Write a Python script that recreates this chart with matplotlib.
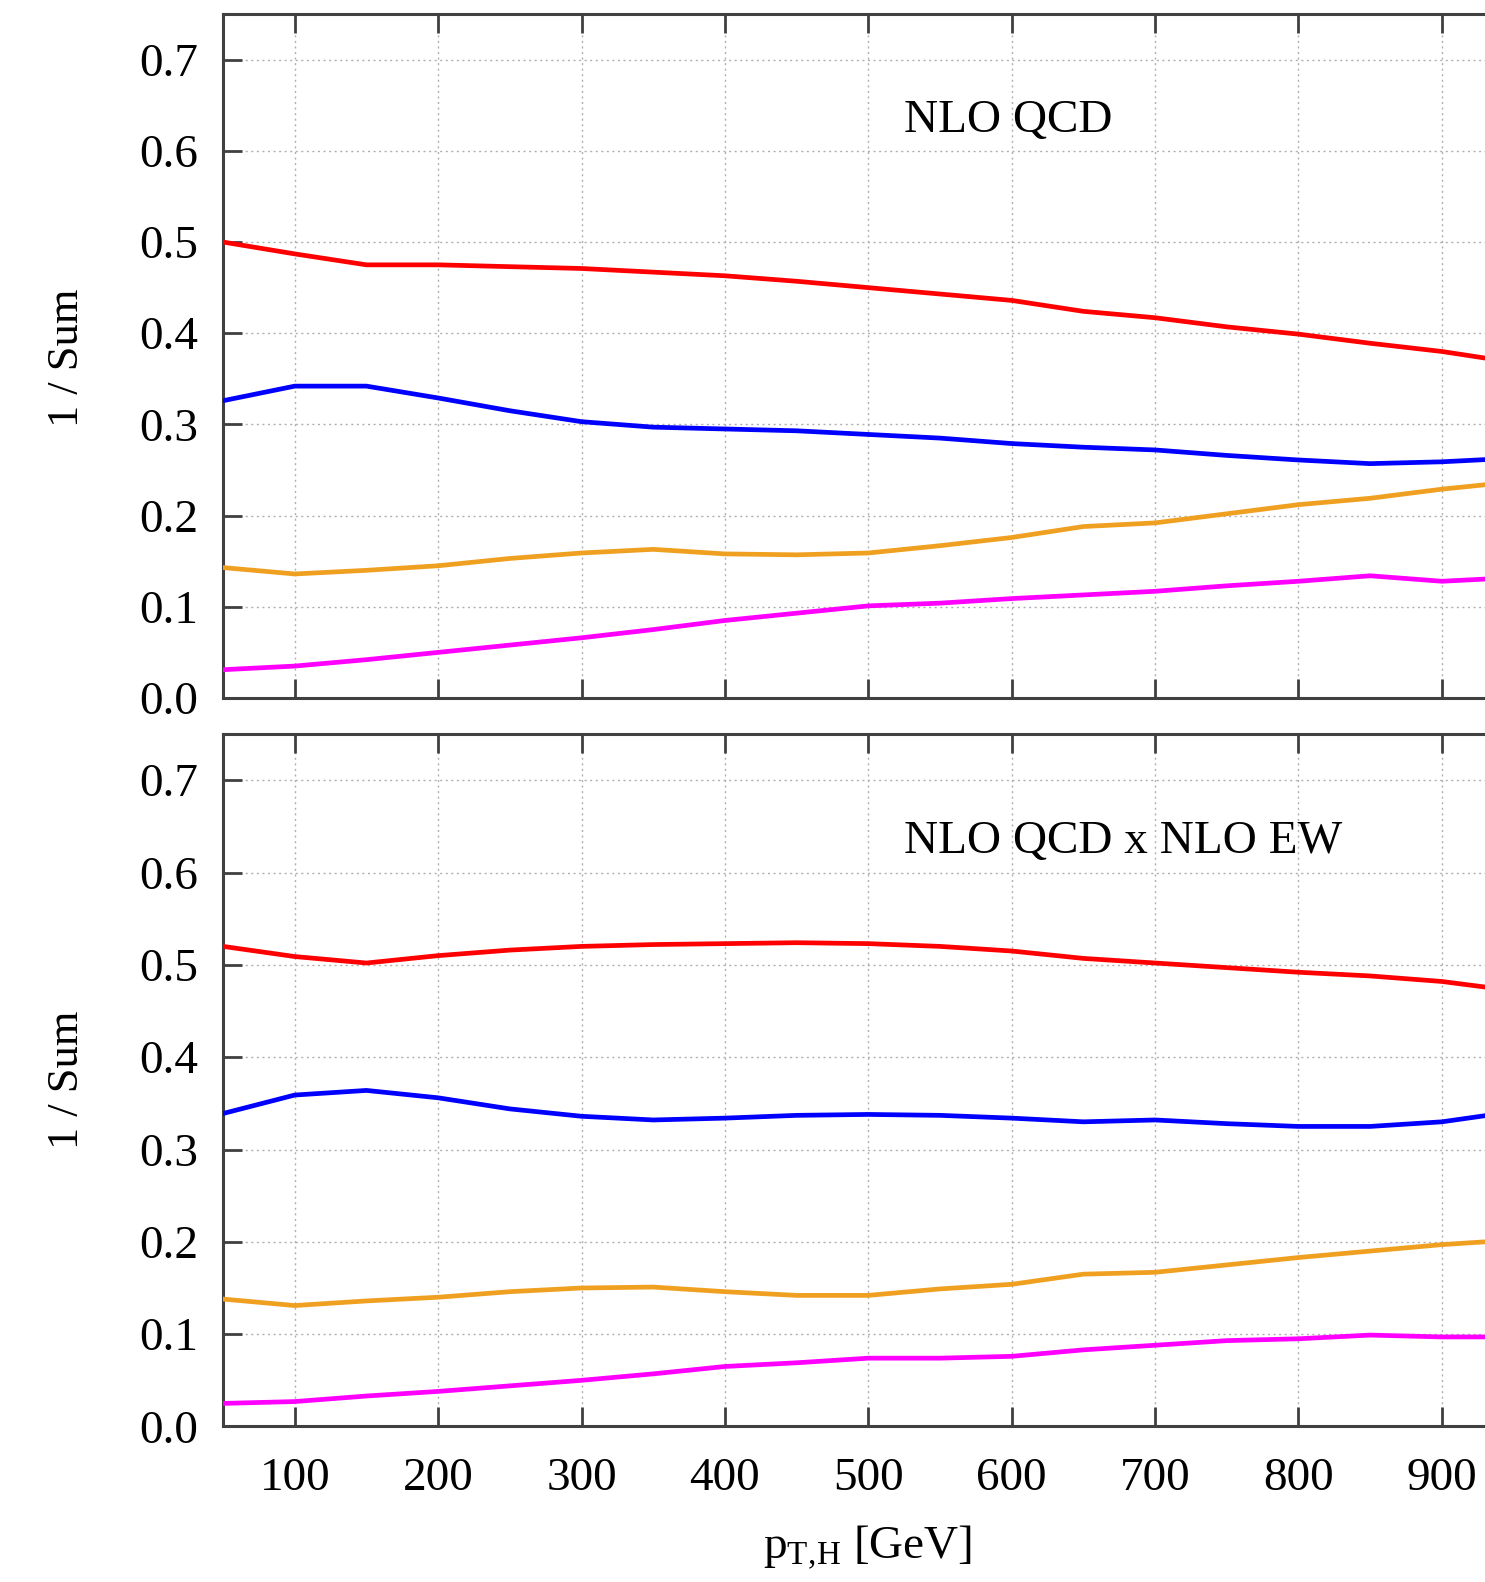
import matplotlib
matplotlib.use("Agg")
import matplotlib.pyplot as plt
import numpy as np

plt.rcParams['font.family'] = ['Liberation Serif', 'DejaVu Serif']
plt.rcParams['mathtext.fontset'] = 'custom'
plt.rcParams['mathtext.rm'] = 'Liberation Serif'
plt.rcParams['mathtext.it'] = 'Liberation Serif:italic'

# pT,H bins [GeV]
pt = [50, 100, 150, 200, 250, 300, 350, 400, 450, 500,
      550, 600, 650, 700, 750, 800, 850, 900, 950]

# NLO QCD
qcd_red = [0.500, 0.487, 0.475, 0.475, 0.473, 0.471, 0.467, 0.463, 0.457, 0.450,
           0.443, 0.436, 0.424, 0.417, 0.407, 0.399, 0.389, 0.380, 0.368]
qcd_blue = [0.326, 0.342, 0.342, 0.329, 0.315, 0.303, 0.297, 0.295, 0.293, 0.289,
            0.285, 0.279, 0.275, 0.272, 0.266, 0.261, 0.257, 0.259, 0.263]
qcd_orange = [0.143, 0.136, 0.140, 0.145, 0.153, 0.159, 0.163, 0.158, 0.157, 0.159,
              0.167, 0.176, 0.188, 0.192, 0.202, 0.212, 0.219, 0.229, 0.237]
qcd_magenta = [0.031, 0.035, 0.042, 0.050, 0.058, 0.066, 0.075, 0.085, 0.093, 0.101,
               0.104, 0.109, 0.113, 0.117, 0.123, 0.128, 0.134, 0.128, 0.132]

# NLO QCD x NLO EW
ew_red = [0.520, 0.509, 0.502, 0.510, 0.516, 0.520, 0.522, 0.523, 0.524, 0.523,
          0.520, 0.515, 0.507, 0.502, 0.497, 0.492, 0.488, 0.482, 0.472]
ew_blue = [0.339, 0.359, 0.364, 0.356, 0.344, 0.336, 0.332, 0.334, 0.337, 0.338,
           0.337, 0.334, 0.330, 0.332, 0.328, 0.325, 0.325, 0.330, 0.341]
ew_orange = [0.138, 0.131, 0.136, 0.140, 0.146, 0.150, 0.151, 0.146, 0.142, 0.142,
             0.149, 0.154, 0.165, 0.167, 0.175, 0.183, 0.190, 0.197, 0.202]
ew_magenta = [0.025, 0.027, 0.033, 0.038, 0.044, 0.050, 0.057, 0.065, 0.069, 0.074,
              0.074, 0.076, 0.083, 0.088, 0.093, 0.095, 0.099, 0.097, 0.097]

colors = ['#ff0000', '#0000ff', '#f0a020', '#ff00ff']
xticks = [100, 200, 300, 400, 500, 600, 700, 800, 900]
yticks = [0.0, 0.1, 0.2, 0.3, 0.4, 0.5, 0.6, 0.7]

fig = plt.figure(figsize=(14.85, 15.82), dpi=100)
ax_top = fig.add_axes([0.1502, 0.5588, 0.9173, 0.4323])
ax_bot = fig.add_axes([0.1502, 0.0983, 0.9173, 0.4377])

panels = [
    (ax_top, [qcd_red, qcd_blue, qcd_orange, qcd_magenta], 'NLO QCD'),
    (ax_bot, [ew_red, ew_blue, ew_orange, ew_magenta], 'NLO QCD x NLO EW'),
]

for ax, series, label in panels:
    for vals, c in zip(series, colors):
        ax.plot(pt, vals, color=c, linewidth=3.4, zorder=3)
    ax.set_xlim(50, 1000)
    ax.set_ylim(0, 0.75)
    ax.set_xticks(xticks)
    ax.set_yticks(yticks)
    ax.set_yticklabels([f'{v:.1f}' for v in yticks])
    ax.grid(True, color='#b0b0b0', linestyle=(0, (1.5, 2.5)), linewidth=1.0)
    for sp in ax.spines.values():
        sp.set_linewidth(2.2)
        sp.set_color('#404040')
    ax.tick_params(axis='both', direction='in', length=14, width=2.0,
                   color='#404040', labelsize=34, top=True, right=False)
    ax.tick_params(axis='y', pad=18)
    ax.tick_params(axis='x', pad=22)
    ax.text(525, 0.633, label, fontsize=34, va='center', ha='left')

ax_top.tick_params(axis='x', labelbottom=False)

fig.text(0.0448, 0.7736, '1 / Sum', rotation=90, fontsize=32,
         ha='center', va='center')
fig.text(0.0448, 0.3176, '1 / Sum', rotation=90, fontsize=32,
         ha='center', va='center')
fig.text(0.584, 0.022, r'p$_{\mathrm{T,\!H}}$ [GeV]', fontsize=34,
         ha='center', va='center')

fig.savefig('out.png', dpi=100)
